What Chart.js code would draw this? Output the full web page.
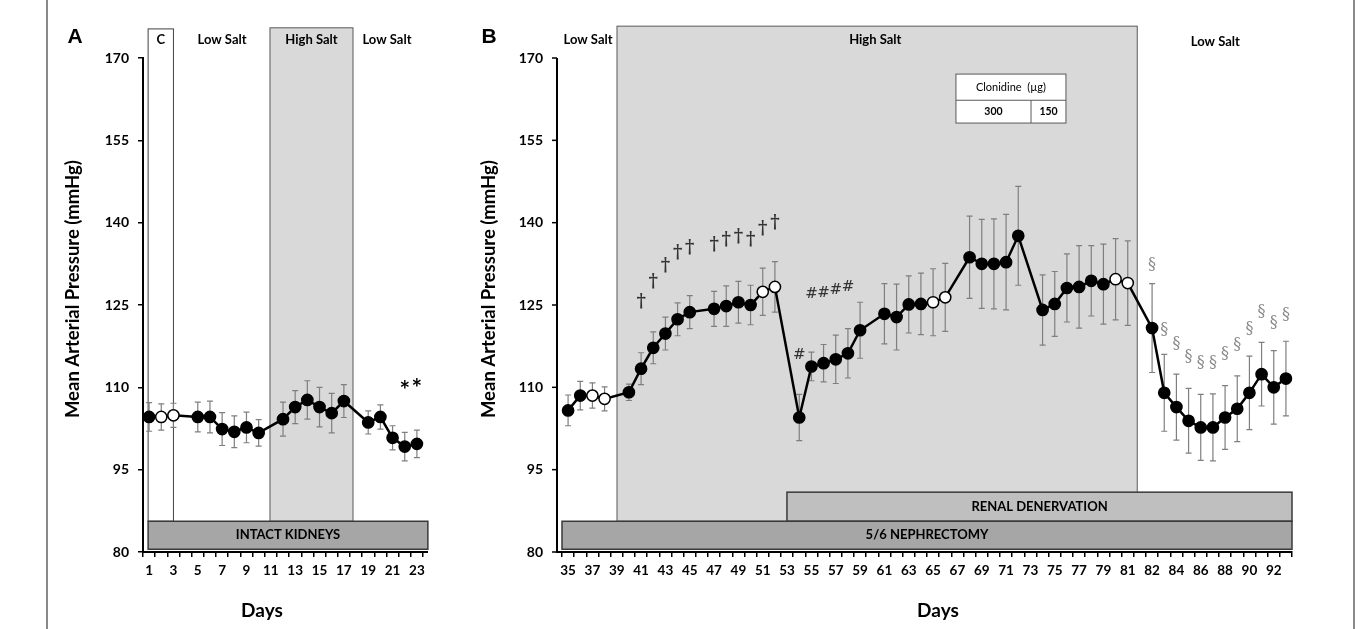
<!DOCTYPE html>
<html><head><meta charset="utf-8">
<script src="https://cdn.jsdelivr.net/npm/chart.js@4.4.0/dist/chart.umd.min.js"></script>
<style>
html,body{margin:0;padding:0;background:#fff;}
#wrap{position:relative;width:1362px;height:629px;overflow:hidden;background:#fff;}
#cA{position:absolute;left:0;top:0;}
#cB{position:absolute;left:470px;top:0;}
.fr{position:absolute;top:0;width:2px;height:629px;background:#8a8a8a;}
</style></head>
<body><div id="wrap">
<div class="fr" style="left:46px"></div>
<div class="fr" style="left:1353px"></div>
<canvas id="cA" width="470" height="629"></canvas>
<canvas id="cB" width="892" height="629"></canvas>
</div>
<script>
// ---------- DATA ----------
const daysA = ['1','2','3','4','5','6','7','8','9','10','11','12','13','14','15','16','17','18','19','20','21','22','23'];
const mapA  = [104.6,104.6,104.9,null,104.6,104.6,102.4,101.9,102.7,101.7,null,104.2,106.4,107.7,106.4,105.3,107.5,null,103.6,104.6,100.8,99.2,99.7];
const semA  = [2.6,2.4,2.2,null,2.7,2.9,3.0,2.9,2.8,2.4,null,3.1,3.0,3.5,3.6,3.6,3.0,null,2.1,2.2,2.2,2.6,2.5];
const openA = ['2','3'];
const starDaysA = ['22','23'];
const starYA = [109.4,109.7];

const daysB = ['35','36','37','38','39','40','41','42','43','44','45','46','47','48','49','50','51','52','53','54','55','56','57','58','59','60',
  '61','62','63','64','65','66','67','68','69','70','71','72','73','74','75','76','77','78','79','80','81','',
  '82','83','84','85','86','87','88','89','90','91','92','93'];
const mapB = [105.8,108.5,108.5,107.9,null,109.1,113.4,117.2,119.8,122.4,123.7,null,124.3,124.8,125.5,125.0,127.4,128.3,null,104.5,113.8,114.4,115.1,116.2,120.4,null,
  123.4,122.8,125.1,125.2,125.5,126.4,null,133.7,132.5,132.5,132.8,137.6,null,124.1,125.2,128.1,128.3,129.4,128.8,129.7,129.0,null,
  120.8,109.0,106.4,103.9,102.7,102.7,104.5,106.1,109.0,112.4,110.0,111.6];
const semB = [2.8,2.6,2.3,2.2,null,1.5,2.9,2.9,3.0,3.0,3.0,null,3.2,3.7,3.8,3.6,4.3,4.6,null,4.2,2.6,3.4,4.4,4.5,5.1,null,
  5.5,6.0,5.2,5.6,6.1,6.2,null,7.5,8.1,8.2,8.7,9.0,null,6.4,5.9,6.2,7.5,6.4,7.3,7.4,7.7,null,
  8.1,7.0,6.0,5.9,6.0,6.1,5.8,6.0,6.7,5.8,6.7,6.8];
const openB = ['37','38','51','52','65','66','80','81'];
const daggerDaysB = ['41','42','43','44','45','47','48','49','50','51','52'];
const daggerYB    = [125.4,129.2,132.0,134.4,135.3,135.9,136.8,137.4,136.8,138.8,139.9];
const hashDaysB   = ['54','55','56','57','58'];
const hashYB      = [115.9,127.0,127.2,127.7,128.3];
const sectDaysB   = ['82','83','84','85','86','87','88','89','90','91','92','93'];
const sectYB      = [132.3,120.4,118.0,115.6,114.4,114.4,116.1,117.7,120.6,123.8,121.7,123.2];

const yMin = 80, yMax = 170, yStep = 15;

// ---------- STYLE ----------
const FONT = "Lato, 'Open Sans', sans-serif";
const bold = s => 'bold ' + s + 'px ' + FONT;

const decor = {
  id: 'decor',
  beforeDraw(chart, args, o) {
    const ctx = chart.ctx, xs = chart.scales.x, ys = chart.scales.y;
    const X = v => xs.getPixelForValue(v), Y = v => ys.getPixelForValue(v);
    ctx.save();
    (o.boxes || []).forEach(b => {
      const x0 = X(b.x0), x1 = X(b.x1), y0 = Y(b.y0), y1 = Y(b.y1);
      ctx.fillStyle = b.fill; ctx.fillRect(x0, y0, x1 - x0, y1 - y0);
      ctx.strokeStyle = b.stroke; ctx.lineWidth = b.lw || 1;
      ctx.strokeRect(x0, y0, x1 - x0, y1 - y0);
    });
    (o.vlines || []).forEach(l => {
      ctx.strokeStyle = l.stroke; ctx.lineWidth = l.lw || 1;
      ctx.beginPath(); ctx.moveTo(X(l.x), Y(l.y0)); ctx.lineTo(X(l.x), Y(l.y1)); ctx.stroke();
    });
    (o.hlines || []).forEach(l => {
      ctx.strokeStyle = l.stroke; ctx.lineWidth = l.lw || 1;
      ctx.beginPath(); ctx.moveTo(X(l.x0), Y(l.y)); ctx.lineTo(X(l.x1), Y(l.y)); ctx.stroke();
    });
    ctx.textAlign = 'center'; ctx.textBaseline = 'middle';
    (o.texts || []).forEach(t => {
      ctx.font = t.font; ctx.fillStyle = t.color || '#000';
      ctx.fillText(t.text, X(t.x), Y(t.y));
    });
    ctx.restore();
  },
  beforeDatasetsDraw(chart, args, o) {
    const ctx = chart.ctx, xs = chart.scales.x, ys = chart.scales.y;
    const vals = chart.data.datasets[0].data, sem = o.sem;
    ctx.save();
    ctx.strokeStyle = '#7f7f7f'; ctx.lineWidth = 1.2;
    vals.forEach((v, i) => {
      if (v == null || sem[i] == null) return;
      const x = xs.getPixelForValue(i);
      const yt = ys.getPixelForValue(v + sem[i]), yb = ys.getPixelForValue(v - sem[i]);
      ctx.beginPath();
      ctx.moveTo(x, yt); ctx.lineTo(x, yb);
      ctx.moveTo(x - 3, yt); ctx.lineTo(x + 3, yt);
      ctx.moveTo(x - 3, yb); ctx.lineTo(x + 3, yb);
      ctx.stroke();
    });
    ctx.restore();
  },
  afterDatasetsDraw(chart, args, o) {
    const ctx = chart.ctx, xs = chart.scales.x, ys = chart.scales.y, ca = chart.chartArea;
    const labels = chart.data.labels;
    ctx.save();
    ctx.textAlign = 'center'; ctx.textBaseline = 'middle';
    (o.marks || []).forEach(m => {
      ctx.font = m.font; ctx.fillStyle = m.color;
      m.days.forEach((d, k) => {
        ctx.fillText(m.glyph, xs.getPixelForValue(labels.indexOf(d)), ys.getPixelForValue(m.ys[k]));
      });
    });
    if (o.axisGap) {
      const ax = ca.left - o.axisGap;
      ctx.strokeStyle = '#000'; ctx.lineWidth = 2;
      ctx.beginPath(); ctx.moveTo(ax, ca.top); ctx.lineTo(ax, ca.bottom + 1); ctx.stroke();
      ctx.beginPath(); ctx.moveTo(ax, ca.bottom); ctx.lineTo(ca.left, ca.bottom); ctx.stroke();
      ctx.lineWidth = 1.5;
      ys.ticks.forEach(t => {
        const y = ys.getPixelForValue(t.value);
        ctx.beginPath(); ctx.moveTo(ax - 5, y); ctx.lineTo(ax, y); ctx.stroke();
      });
    }
    if (o.extendRight) {
      ctx.strokeStyle = '#000'; ctx.lineWidth = 2;
      ctx.beginPath(); ctx.moveTo(ca.right, ca.bottom); ctx.lineTo(ca.right + o.extendRight, ca.bottom); ctx.stroke();
    }
    ctx.fillStyle = '#000';
    ctx.font = bold(19);
    ctx.fillText('Days', xs.getPixelForValue(o.daysX), ca.bottom + 59);
    ctx.save();
    ctx.translate(ca.left - o.yTitleDx, ys.getPixelForValue(o.yTitleV));
    ctx.rotate(-Math.PI / 2);
    ctx.font = bold(18.5);
    ctx.fillText('Mean Arterial Pressure (mmHg)', 0, 0);
    ctx.restore();
    ctx.font = "bold 21px 'Liberation Sans', Arial, sans-serif";
    ctx.fillText(o.letter, ca.left - o.letterDx, 37);
    ctx.restore();
  }
};

function makeChart(id, labels, vals, open, cfg) {
  return new Chart(document.getElementById(id), {
    type: 'line',
    data: {
      labels: labels,
      datasets: [{
        data: vals, spanGaps: true, borderColor: '#000', borderWidth: 2.5, tension: 0,
        pointRadius: 5.6, pointBorderWidth: 1.5, pointBorderColor: '#000',
        pointBackgroundColor: labels.map(d => open.includes(d) ? '#fff' : '#000')
      }]
    },
    options: {
      responsive: false, animation: false, events: [],
      layout: { padding: { left: 0, top: 58, right: cfg.padRight, bottom: 4 } },
      plugins: { legend: { display: false }, tooltip: { enabled: false }, decor: cfg.decor },
      scales: {
        x: {
          type: 'category', offset: true,
          grid: { offset: true, drawOnChartArea: false, drawTicks: true, tickLength: 5, color: '#000', lineWidth: 1.5 },
          border: { display: true, color: '#000', width: 2 },
          ticks: { autoSkip: false, maxRotation: 0, padding: 6, color: '#000', font: { family: FONT, size: 13.5, weight: 'bold' },
                   callback: (v, i) => i % 2 === 0 ? labels[i] : '' },
          afterFit: s => { s.height = 73; }
        },
        y: {
          min: yMin, max: yMax,
          ticks: { stepSize: yStep, padding: cfg.yPad, color: '#000', font: { family: FONT, size: 14, weight: 'bold' } },
          grid: { drawOnChartArea: false, drawTicks: !cfg.decor.axisGap, tickLength: 5, color: '#000', lineWidth: 1.5 },
          border: { display: !cfg.decor.axisGap, color: '#000', width: 2 },
          afterFit: s => { s.width = cfg.yWidth; }
        }
      }
    },
    plugins: [decor]
  });
}

const topY = 173.3;
makeChart('cA', daysA, mapA, openA, {
  padRight: 47, yWidth: 143, yPad: 9,
  decor: {
    sem: semA, axisGap: 0, extendRight: 5, daysX: 9.27, yTitleDx: 70, yTitleV: 127.9, letter: 'A', letterDx: 68,
    boxes: [
      { x0: -0.08, x1: 2.0, y0: 175.3, y1: 85.6, fill: '#ffffff', stroke: '#404040', lw: 1 },
      { x0: 9.93, x1: 16.75, y0: 175.5, y1: 85.6, fill: '#d9d9d9', stroke: '#595959', lw: 1 },
      { x0: -0.08, x1: 22.9, y0: 85.6, y1: 80.5, fill: '#a6a6a6', stroke: '#3a3a3a', lw: 1.5 }
    ],
    texts: [
      { text: 'C', x: 0.96, y: topY, font: bold(13) },
      { text: 'Low Salt', x: 5.99, y: topY, font: bold(13) },
      { text: 'High Salt', x: 13.34, y: topY, font: bold(13) },
      { text: 'Low Salt', x: 19.54, y: topY, font: bold(13) },
      { text: 'INTACT KIDNEYS', x: 11.41, y: 83.05, font: bold(13) }
    ],
    marks: [
      { glyph: '*', days: starDaysA, ys: starYA, font: bold(25), color: '#000' }
    ]
  }
});

makeChart('cB', daysB, mapB, openB, {
  padRight: 70, yWidth: 92, yPad: 19,
  decor: {
    sem: semB, axisGap: 5, extendRight: 0, daysX: 30.4, yTitleDx: 73, yTitleV: 127.9, letter: 'B', letterDx: 73,
    boxes: [
      { x0: 4.02, x1: 46.78, y0: 175.8, y1: 85.6, fill: '#d9d9d9', stroke: '#595959', lw: 1 },
      { x0: 17.99, x1: 59.5, y0: 90.9, y1: 85.6, fill: '#bfbfbf', stroke: '#3a3a3a', lw: 1.5 },
      { x0: -0.5, x1: 59.5, y0: 85.6, y1: 80.5, fill: '#a6a6a6', stroke: '#3a3a3a', lw: 1.5 },
      { x0: 31.88, x1: 40.92, y0: 167.07, y1: 158.15, fill: '#ffffff', stroke: '#595959', lw: 1 }
    ],
    hlines: [ { x0: 31.88, x1: 40.92, y: 162.3, stroke: '#595959', lw: 1 } ],
    vlines: [ { x: 38.05, y0: 162.3, y1: 158.15, stroke: '#595959', lw: 1 } ],
    texts: [
      { text: 'Low Salt', x: 1.64, y: topY, font: bold(13) },
      { text: 'High Salt', x: 25.25, y: topY, font: bold(13) },
      { text: 'Low Salt', x: 53.2, y: 172.9, font: bold(13) },
      { text: 'Clonidine  (µg)', x: 36.4, y: 164.7, font: '11px ' + FONT },
      { text: '300', x: 34.96, y: 160.2, font: bold(10.5) },
      { text: '150', x: 39.49, y: 160.2, font: bold(10.5) },
      { text: 'RENAL DENERVATION', x: 38.75, y: 88.25, font: bold(13) },
      { text: '5/6 NEPHRECTOMY', x: 29.5, y: 83.05, font: bold(13) }
    ],
    marks: [
      { glyph: '†', days: daggerDaysB, ys: daggerYB, font: "bold 18px 'DejaVu Serif', serif", color: '#333' },
      { glyph: '#', days: hashDaysB, ys: hashYB, font: "15px 'DejaVu Serif', serif", color: '#333' },
      { glyph: '§', days: sectDaysB, ys: sectYB, font: "16px 'DejaVu Serif', serif", color: '#8a8a8a' }
    ]
  }
});
</script>
</body></html>
